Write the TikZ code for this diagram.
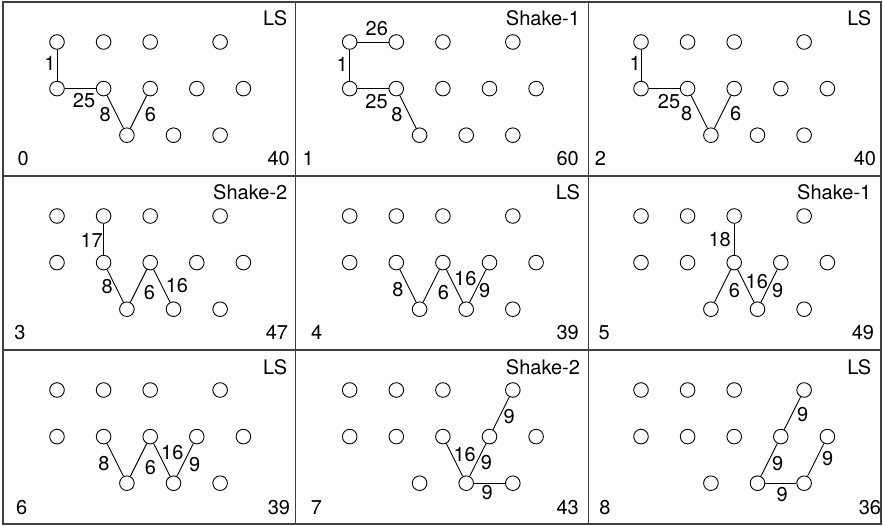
\documentclass[tikz,border=0pt]{standalone}
\usepackage{fontspec}
\setmainfont{TeX Gyre Heros}
\usetikzlibrary{positioning}

\tikzset{
	spot/.style={circle, draw, fill=white, line width=0.9pt, minimum size=14.6pt, inner sep=0pt},
	panelbox/.style={line width=1.2pt, black!75},
	link/.style={line width=0.9pt},
	num/.style={inner sep=0pt}
}

\newcommand{\spots}[1]{%
	\foreach \c/\n in {0/1,1/2,2/3,3.5/4}
		\node[spot] (#1a\n) at (54+46.6*\c,40) {};
	\foreach \c/\n in {0/1,1/2,2/3,3/4,4/5}
		\node[spot] (#1b\n) at (54+46.6*\c,86.6) {};
	\foreach \c/\n in {1.5/1,2.5/2,3.5/3}
		\node[spot] (#1c\n) at (54+46.6*\c,133.2) {};
}

\newcommand{\panelinfo}[6]{%
	\node[num, anchor=base east] (#1tag) at (284.5,24) {#2};
	\node[num, anchor=base west] (#1it) at (#4,164) {#3};
	\node[num, anchor=base east] (#1sc) at (#6,164) {#5};
}

\begin{document}
\begin{tikzpicture}[x=1pt, y=-1pt, font=\fontsize{20}{24}\selectfont]
		\useasboundingbox (0,0) rectangle (883,526);
		\draw[panelbox] (3,2) rectangle (881,524);
		\draw[panelbox] (295.7,2) -- (295.7,524);
		\draw[panelbox] (588.4,2) -- (588.4,524);
		\draw[panelbox] (3,176) -- (881,176);
		\draw[panelbox] (3,350) -- (881,350);

		\begin{scope}[shift={(3,2)}]
			\panelinfo{p0}{LS}{0}{14.5}{40}{287}
			\spots{p0}
			\draw[link] (p0a1) -- node[num, shift={(-7,-1.5)}] {1} (p0b1);
			\draw[link] (p0b1) -- node[num, shift={(3.7,12.4)}] {25} (p0b2);
			\draw[link] (p0b2) -- node[num, shift={(-10,3)}] {8} (p0c1);
			\draw[link] (p0c1) -- node[num, shift={(12,2.6)}] {6} (p0b3);
		\end{scope}

		\begin{scope}[shift={(295.7,2)}]
			\panelinfo{p1}{Shake-1}{1}{6.8}{60}{283.3}
			\spots{p1}
			\draw[link] (p1a1) -- node[num, shift={(3.8,-13.2)}] {26} (p1a2);
			\draw[link] (p1a1) -- node[num, shift={(-7.4,-0.8)}] {1} (p1b1);
			\draw[link] (p1b1) -- node[num, shift={(3.5,13.1)}] {25} (p1b2);
			\draw[link] (p1b2) -- node[num, shift={(-11,3.1)}] {8} (p1c1);
		\end{scope}

		\begin{scope}[shift={(587,2)}]
			\panelinfo{p2}{LS}{2}{7.7}{40}{289.3}
			\spots{p2}
			\draw[link] (p2a1) -- node[num, shift={(-5.7,-1.5)}] {1} (p2b1);
			\draw[link] (p2b1) -- node[num, shift={(4.7,13.4)}] {25} (p2b2);
			\draw[link] (p2b2) -- node[num, shift={(-12.7,1.4)}] {8} (p2c1);
			\draw[link] (p2c1) -- node[num, shift={(13,1.4)}] {6} (p2b3);
		\end{scope}

		\begin{scope}[shift={(3,176)}]
			\panelinfo{p3}{Shake-2}{3}{11.2}{47}{285.3}
			\spots{p3}
			\draw[link] (p3a2) -- node[num, shift={(-11.9,0.7)}] {17} (p3b2);
			\draw[link] (p3b2) -- node[num, shift={(-8,0.8)}] {8} (p3c1);
			\draw[link] (p3c1) -- node[num, shift={(11,6.3)}] {6} (p3b3);
			\draw[link] (p3b3) -- node[num, shift={(15.1,-0.4)}] {16} (p3c2);
		\end{scope}

		\begin{scope}[shift={(295.7,176)}]
			\panelinfo{p4}{LS}{4}{15.3}{39}{283.3}
			\spots{p4}
			\draw[link] (p4b2) -- node[num, shift={(-10,4.1)}] {8} (p4c1);
			\draw[link] (p4c1) -- node[num, shift={(12.2,6.3)}] {6} (p4b3);
			\draw[link] (p4b3) -- node[num, shift={(10.8,-7.1)}] {16} (p4c2);
			\draw[link] (p4c2) -- node[num, shift={(6.8,4.9)}] {9} (p4b4);
		\end{scope}

		\begin{scope}[shift={(587,176)}]
			\panelinfo{p5}{Shake-1}{5}{11.5}{49}{287.3}
			\spots{p5}
			\draw[link] (p5a3) -- node[num, shift={(-14.5,0.4)}] {18} (p5b3);
			\draw[link] (p5b3) -- node[num, shift={(11.8,4.9)}] {6} (p5c1);
			\draw[link] (p5b3) -- node[num, shift={(10.9,-4.7)}] {16} (p5c2);
			\draw[link] (p5c2) -- node[num, shift={(8.5,4.9)}] {9} (p5b4);
		\end{scope}

		\begin{scope}[shift={(3,350)}]
			\panelinfo{p6}{LS}{6}{12.9}{39}{287.3}
			\spots{p6}
			\draw[link] (p6b2) -- node[num, shift={(-11.4,3.9)}] {8} (p6c1);
			\draw[link] (p6c1) -- node[num, shift={(12,8.1)}] {6} (p6b3);
			\draw[link] (p6b3) -- node[num, shift={(10.5,-7.4)}] {16} (p6c2);
			\draw[link] (p6c2) -- node[num, shift={(9.5,5.1)}] {9} (p6b4);
		\end{scope}

		\begin{scope}[shift={(295.7,350)}]
			\panelinfo{p7}{Shake-2}{7}{14.9}{43}{283.3}
			\spots{p7}
			\draw[link] (p7a4) -- node[num, shift={(8,2.9)}] {9} (p7b4);
			\draw[link] (p7b3) -- node[num, shift={(10.1,-5.7)}] {16} (p7c2);
			\draw[link] (p7c2) -- node[num, shift={(8.5,2.6)}] {9} (p7b4);
			\draw[link] (p7c2) -- node[num, shift={(-2.3,9)}] {9} (p7c3);
		\end{scope}

		\begin{scope}[shift={(587,350)}]
			\panelinfo{p8}{LS}{8}{12.2}{36}{294.3}
			\spots{p8}
			\draw[link] (p8a4) -- node[num, shift={(10.2,0.9)}] {9} (p8b4);
			\draw[link] (p8b4) -- node[num, shift={(8.5,3.9)}] {9} (p8c2);
			\draw[link] (p8c2) -- node[num, shift={(1.4,11)}] {9} (p8c3);
			\draw[link] (p8c3) -- node[num, shift={(11.9,-1.6)}] {9} (p8b5);
		\end{scope}
	\end{tikzpicture}
\end{document}
